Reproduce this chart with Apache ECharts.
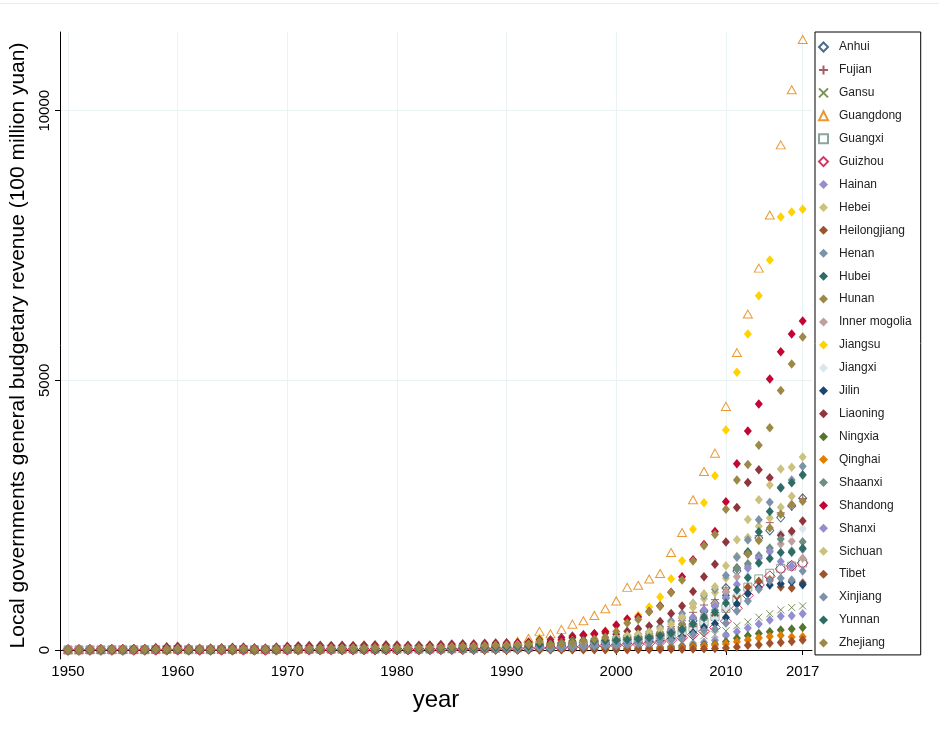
<!DOCTYPE html>
<html>
<head>
<meta charset="utf-8">
<script src="https://cdn.jsdelivr.net/npm/echarts@6/dist/echarts.min.js"></script>
<style>
  html, body { margin: 0; padding: 0; background: #fff; }
  #main { width: 939px; height: 731px; }
</style>
</head>
<body>
<div id="main"></div>
<script>
var years = [1950,1951,1952,1953,1954,1955,1956,1957,1958,1959,1960,1961,1962,1963,1964,1965,1966,1967,1968,1969,
    1970,1971,1972,1973,1974,1975,1976,1977,1978,1979,1980,1981,1982,1983,1984,1985,1986,1987,1988,1989,
    1990,1991,1992,1993,1994,1995,1996,1997,1998,1999,2000,2001,2002,2003,2004,2005,2006,2007,2008,2009,
    2010,2011,2012,2013,2014,2015,2016,2017];

var xTicks = [1950, 1960, 1970, 1980, 1990, 2000, 2010, 2017];
var yTicks = [0, 5000, 10000];

// revenue, 100 million yuan, 1950..2017
var anhui = [2,3,4,4,5,5,6,6,7,10,11,7,6,7,8,9,11,8,7,10,13,14,15,15,15,16,15,17,18,18,18,18,18,20,23,28,30,32,35,40,
    44,47,54,75,50,66,86,103,118,131,178,195,200,221,274,335,428,543,725,864,1149,1463,1793,2075,2218,2455,2673,2812];
var fujian = [1,2,3,3,4,4,4,4,6,8,9,6,5,5,6,7,8,6,5,7,9,10,10,11,11,11,11,12,13,13,14,15,16,18,21,26,29,32,36,40,
    42,46,55,80,79,100,124,148,170,186,234,274,285,304,333,433,541,699,834,933,1151,1502,1776,2119,2362,2544,2655,2809];
var gansu = [1,2,2,3,3,3,3,4,5,7,8,5,4,4,5,6,7,5,4,6,8,9,9,10,9,10,9,10,11,11,11,10,11,12,13,16,17,18,20,22,
    24,25,27,32,25,29,35,38,45,48,61,66,68,76,85,124,141,191,265,287,354,450,520,607,673,744,787,816];
var guangdong = [3,6,8,10,11,12,13,14,18,22,25,16,15,16,19,22,26,20,17,25,30,33,34,36,35,37,35,39,42,40,38,40,44,50,58,70,78,90,108,125,
    131,160,215,345,299,382,479,541,641,766,910,1161,1201,1316,1419,1807,2179,2786,3310,3650,4517,5515,6229,7081,8065,9367,10390,11320];
var guangxi = [1,2,3,3,4,4,4,5,6,7,8,5,5,5,6,7,8,6,5,8,10,11,11,12,12,12,12,13,14,14,14,14,15,16,18,22,24,26,29,33,
    36,39,46,66,55,68,78,89,108,116,147,178,186,204,238,283,343,419,519,621,772,948,1166,1318,1423,1515,1556,1615];
var guizhou = [1,1,2,2,2,2,3,3,4,5,6,4,3,3,4,5,5,4,3,5,6,7,7,8,8,8,8,9,9,9,9,9,10,11,12,15,16,17,19,22,
    24,26,30,41,36,42,52,62,72,79,86,100,108,125,149,182,227,285,348,416,534,773,1014,1206,1367,1503,1561,1614];
var hainan = [null,null,null,null,null,null,null,null,null,null,null,null,null,null,null,null,null,null,null,null,
    null,null,null,null,null,null,null,null,null,null,null,null,null,null,null,null,null,null,4,6,
    8,10,18,33,25,28,30,32,36,38,39,43,47,51,57,69,82,108,145,179,271,340,409,482,555,628,637,674];
var hebei = [2,4,5,6,7,7,8,8,10,13,15,10,9,9,11,13,15,11,10,14,18,20,21,22,21,22,21,24,26,26,25,25,25,28,32,39,42,45,50,57,
    62,66,75,110,84,104,125,147,167,184,214,250,284,336,407,516,621,789,948,1067,1332,1738,2084,2296,2447,2649,2850,3234];
var heilongjiang = [3,5,6,7,8,8,9,10,13,17,20,12,11,12,14,17,20,15,13,19,24,27,28,29,28,30,28,31,33,32,30,29,29,31,36,42,46,49,53,58,
    62,65,72,100,70,88,117,142,165,175,185,208,217,248,289,318,387,440,578,641,755,997,1163,1277,1301,1166,1148,1243];
var henan = [3,5,5,7,8,8,8,9,11,14,16,10,9,10,12,14,16,12,10,15,19,21,22,23,23,24,23,25,28,28,27,26,27,30,34,41,45,48,53,61,
    66,70,78,110,100,126,155,181,202,218,246,268,297,338,429,538,679,862,1009,1126,1381,1722,2040,2416,2739,3016,3153,3407];
var hubei = [2,5,5,6,7,7,8,8,10,13,16,10,9,9,11,13,15,11,10,14,18,20,21,22,21,22,21,24,26,26,25,25,25,28,32,39,42,45,50,57,
    62,65,72,105,80,97,118,141,164,177,214,231,243,260,311,376,476,590,711,815,1011,1527,1823,2191,2567,3006,3103,3248];
var hunan = [2,4,5,6,7,7,7,7,9,12,14,9,8,8,10,12,14,10,9,13,16,18,19,20,19,20,19,21,23,23,23,22,23,25,29,35,38,41,45,51,
    56,60,68,95,91,111,129,144,166,178,177,207,231,268,320,395,478,607,723,848,1082,1517,1783,2031,2263,2515,2698,2758];
var innerMongolia = [1,2,2,2,3,3,3,3,4,5,6,3,3,3,4,5,5,4,3,5,6,7,7,8,8,8,8,8,9,9,9,9,9,10,11,14,15,16,18,20,
    22,24,28,40,37,48,60,75,84,96,95,100,113,139,197,277,343,492,651,851,1070,1357,1553,1721,1844,1964,2016,1703];
var jiangsu = [4,8,9,11,13,13,14,15,18,24,28,17,16,17,19,23,27,20,17,26,32,36,37,39,38,39,38,42,46,46,45,44,45,50,57,69,75,80,88,101,
    110,118,140,222,137,173,220,272,297,350,448,572,644,798,981,1323,1657,2238,2731,3229,4080,5149,5861,6569,7233,8029,8121,8172];
var jiangxi = [1,2,3,3,4,4,4,4,5,7,8,5,5,5,6,7,8,6,5,7,9,10,11,11,11,11,11,12,13,13,13,13,13,14,17,20,22,23,26,29,
    32,34,39,55,51,64,82,98,115,124,112,132,141,169,206,253,305,390,489,581,778,1053,1371,1621,1882,2166,2151,2247];
var jilin = [2,3,3,4,5,5,5,5,7,9,10,6,6,6,7,8,10,7,6,9,12,13,13,14,14,14,14,15,17,17,16,16,16,18,21,25,27,29,32,37,
    40,42,46,63,50,64,72,85,97,106,104,121,132,154,166,207,246,321,423,487,602,851,1041,1157,1203,1229,1264,1211];
var liaoning = [8,14,17,20,24,25,27,30,45,60,70,38,33,36,42,50,56,40,35,55,70,80,82,86,84,88,83,92,98,95,92,88,87,92,100,112,115,118,125,130,
    135,140,150,190,189,230,260,281,294,315,293,349,395,447,529,675,818,1083,1356,1591,2004,2643,3105,3343,3193,2127,2201,2393];
var ningxia = [0.2,0.4,0.5,0.6,0.7,0.7,0.8,0.8,1,1.3,1.5,1,0.9,0.9,1,1.2,1.5,1.1,0.9,1.4,1.7,2,2,2.1,2.1,2.1,2.1,2.3,2.5,2.5,2.4,2.4,2.4,2.7,3.1,3.8,4.1,4.4,4.8,5.5,
    6,6.5,7.5,10,10,12,14,16,19,22,21,27,26,30,37,48,61,80,95,111,153,220,264,308,340,373,388,418];
var qinghai = [0.3,0.5,0.5,0.6,0.7,0.7,0.8,0.8,1.1,1.4,1.6,1,0.9,0.9,1.1,1.3,1.5,1.1,1,1.4,1.8,2,2,2.1,2,2.2,2,2.3,2.5,2.5,2.4,2.4,2.5,2.7,3.1,3.7,4.1,4.3,4.8,5.4,
    6,6,7,8,7,9,11,12,14,16,17,19,20,24,27,34,42,57,71,87,110,152,186,224,252,267,239,246];
var shaanxi = [2,3,3,4,4,4,5,5,6,8,10,6,5,6,7,8,9,7,6,9,11,12,13,13,13,14,13,15,16,16,16,15,16,17,20,24,26,28,30,35,
    38,40,46,66,52,65,82,97,113,124,115,135,150,178,215,275,362,475,592,736,958,1500,1601,1748,1890,2060,1834,2007];
var shandong = [5,9,10,12,14,14,15,16,20,26,30,18,16,17,20,24,28,21,18,27,34,38,39,40,39,41,39,43,47,47,45,45,46,51,58,70,76,81,90,102,
    110,118,130,168,150,190,233,273,307,343,464,573,610,714,820,1073,1356,1675,1957,2199,2749,3456,4060,4560,5027,5529,5860,6099];
var shanxi = [2,3,3,4,5,5,5,6,7,9,11,7,6,6,7,9,10,8,7,10,12,14,14,15,14,15,14,16,18,18,17,17,17,19,22,26,29,30,34,39,
    42,44,48,66,52,62,77,90,104,113,114,133,151,187,256,368,583,598,748,806,970,1214,1516,1702,1821,1643,1557,1867];
var sichuan = [4,7,7,9,11,11,11,12,15,20,23,14,13,14,16,19,22,16,14,21,26,29,30,32,31,32,31,34,38,38,37,36,37,41,47,56,61,65,72,83,
    90,95,105,150,106,140,170,159,185,196,234,271,291,336,386,479,608,851,1042,1175,1562,2045,2421,2784,3061,3355,3389,3578];
var tibet = [0.1,0.1,0.1,0.1,0.2,0.2,0.2,0.2,0.2,0.3,0.3,0.2,0.2,0.2,0.2,0.3,0.3,0.2,0.2,0.3,0.3,0.4,0.4,0.4,0.4,0.4,0.4,0.4,0.5,0.5,0.4,0.4,0.4,0.5,0.5,0.5,0.5,0.6,0.6,0.7,
    0.8,1,1.2,2,3,3.6,4,4.6,5.7,6.3,5.4,6.3,7.3,8.1,10,12,15,20,25,30,37,55,87,95,125,138,156,186];
var xinjiang = [0.7,1.4,1.5,1.8,2.1,2.1,2.3,2.4,3,3.9,4.5,2.8,2.6,2.7,3.2,3.7,4.4,3.3,2.8,4.2,5.2,5.9,6,6.3,6.2,6.4,6.2,6.9,7.5,7.5,7.3,7.2,7.3,8.1,9.3,11.3,12.3,13,14.4,16.5,
    18,20,24,36,30,38,48,57,70,75,79,96,117,128,155,180,219,286,361,389,500,721,909,1128,1282,1331,1299,1466];
var yunnan = [2,4,5,6,6,6,7,7,9,12,14,9,8,8,10,11,13,10,9,13,16,18,18,19,19,20,19,21,23,23,22,22,22,25,28,34,38,40,44,50,
    55,60,70,100,104,133,165,181,168,176,180,191,206,229,263,313,380,487,614,698,871,1111,1338,1611,1698,1808,1812,1886];
var zhejiang = [3,6,7,9,10,10,11,11,14,18,21,13,12,13,15,18,21,16,13,20,25,28,28,30,29,30,29,33,35,35,35,34,35,38,44,53,58,62,68,78,
    85,90,102,160,95,117,140,165,198,238,342,501,567,707,806,1067,1298,1650,1933,2143,2608,3151,3441,3797,4122,4810,5302,5804];

var provinces = ['Anhui', 'Fujian', 'Gansu', 'Guangdong', 'Guangxi', 'Guizhou', 'Hainan', 'Hebei', 'Heilongjiang',
    'Henan', 'Hubei', 'Hunan', 'Inner mogolia', 'Jiangsu', 'Jiangxi', 'Jilin', 'Liaoning', 'Ningxia', 'Qinghai',
    'Shaanxi', 'Shandong', 'Shanxi', 'Sichuan', 'Tibet', 'Xinjiang', 'Yunnan', 'Zhejiang'];
var values = [anhui, fujian, gansu, guangdong, guangxi, guizhou, hainan, hebei, heilongjiang, henan, hubei, hunan,
    innerMongolia, jiangsu, jiangxi, jilin, liaoning, ningxia, qinghai, shaanxi, shandong, shanxi, sichuan, tibet,
    xinjiang, yunnan, zhejiang];

// stata s2color cycle
var palette = ['#1a476f', '#90353b', '#55752f', '#e37e00', '#6e8e84', '#c10534', '#938dd2', '#cac27e',
    '#a0522d', '#7b92a8', '#2d6d66', '#9c8847', '#bfa19c', '#ffd200', '#d9e6eb'];

var PLUS = 'path://M5,0L5,10M0,5L10,5';
var CROSS = 'path://M0,0L10,10M10,0L0,10';

// first six provinces get hollow / line markers
var hollow = {
    0: { symbol: 'diamond', size: [8, 9] },
    1: { symbol: PLUS, size: [8, 8] },
    2: { symbol: CROSS, size: [7, 7] },
    3: { symbol: 'triangle', size: [9, 8] },
    4: { symbol: 'rect', size: [8, 8] },
    5: { symbol: 'diamond', size: [11, 11] }
};

var series = provinces.map(function (name, i) {
    var c = palette[i % palette.length];
    var pts = [];
    values[i].forEach(function (v, k) {
        if (v !== null) pts.push([years[k], v]);
    });
    var s = {
        name: name,
        type: 'scatter',
        data: pts,
        symbol: 'diamond',
        symbolSize: [8, 9.5],
        itemStyle: { color: c, opacity: 1 },
        emphasis: { disabled: true }
    };
    if (hollow[i]) {
        s.symbol = hollow[i].symbol;
        s.symbolSize = hollow[i].size;
        s.itemStyle = { color: 'rgba(255,255,255,0)', borderColor: c, borderWidth: 1 };
    }
    return s;
});

var myChart = echarts.init(document.getElementById('main'), null, { renderer: 'canvas' });

var option = {
    backgroundColor: '#fff',
    animation: false,
    textStyle: { fontFamily: 'Liberation Sans, Arial, sans-serif' },
    graphic: [{
        type: 'rect',
        shape: { x: 0, y: 3, width: 939, height: 1 },
        style: { fill: '#ececec' },
        silent: true
    }],
    grid: { left: 60, top: 32, right: 127, bottom: 72, containLabel: false },
    legend: {
        orient: 'vertical',
        left: 815,
        top: 32,
        padding: [9, 9, 6, 3],
        borderColor: '#000',
        borderWidth: 1,
        backgroundColor: '#fff',
        itemWidth: 9,
        itemHeight: 9,
        itemGap: 10.92,
        selectedMode: false,
        textStyle: { fontSize: 12, lineHeight: 12, color: '#222', padding: [0, 0, 0, 6] },
        data: provinces
    },
    xAxis: {
        type: 'value',
        min: 1949.27,
        max: 2017.85,
        name: 'year',
        nameLocation: 'middle',
        nameGap: 29,
        nameTextStyle: { fontSize: 24, color: '#000' },
        axisLine: { lineStyle: { color: '#000', width: 1 } },
        axisTick: { customValues: xTicks, length: 5, lineStyle: { color: '#000' } },
        axisLabel: {
            customValues: xTicks, fontSize: 15, color: '#000', margin: 5,
            formatter: function (v) { return String(v); }
        },
        splitLine: { show: true, lineStyle: { color: '#eaf2f3', width: 1 } }
    },
    yAxis: {
        type: 'value',
        min: -167,
        max: 11460,
        name: 'Local governments general budgetary revenue (100 million yuan)',
        nameLocation: 'middle',
        nameGap: 26,
        nameTextStyle: { fontSize: 21, color: '#000' },
        axisLine: { show: true, lineStyle: { color: '#000', width: 1 } },
        axisTick: { show: true, customValues: yTicks, length: 5, lineStyle: { color: '#000' } },
        axisLabel: {
            customValues: yTicks, fontSize: 15, color: '#000', rotate: 90, margin: 8,
            formatter: function (v) { return String(v); }
        },
        splitLine: { show: true, lineStyle: { color: '#eaf2f3', width: 1 } }
    },
    series: series
};

myChart.setOption(option);
</script>
</body>
</html>
